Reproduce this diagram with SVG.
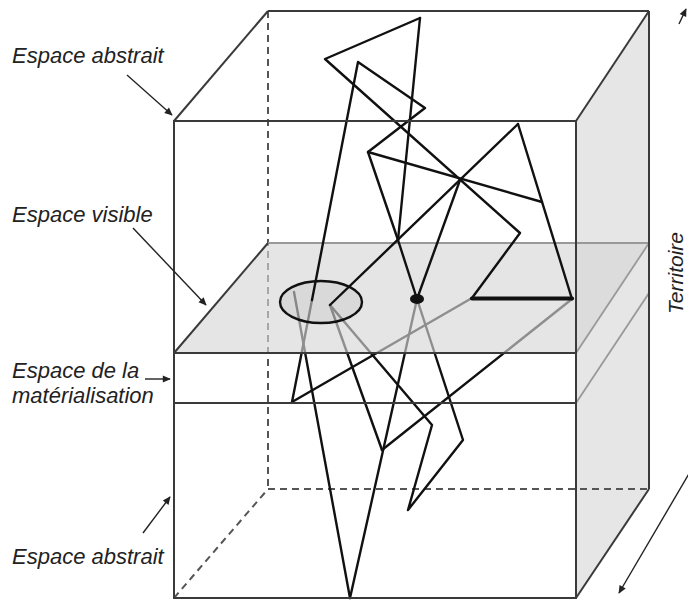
<svg xmlns="http://www.w3.org/2000/svg" width="688" height="604" viewBox="0 0 688 604">
<defs>
<style>
.edge{stroke:#3a3a3a;stroke-width:2;fill:none}
.light{stroke:#999;stroke-width:1.8;fill:none}
.dash{stroke:#555;stroke-width:2;fill:none;stroke-dasharray:7 5}
.fig{stroke:#111;stroke-width:2.4;fill:none;stroke-linejoin:round;stroke-linecap:round}
.arr{stroke:#222;stroke-width:1.4;fill:none;marker-end:url(#ah)}
.lbl{font-family:"Liberation Sans",Arial,sans-serif;font-style:italic;font-size:22px;fill:#222}
.side{font-size:21px}
</style>
<marker id="ah" viewBox="0 0 10 10" refX="9" refY="5" markerWidth="11" markerHeight="8" markerUnits="userSpaceOnUse" orient="auto">
<path d="M0,0.5 L10,5 L0,9.5 Z" fill="#222"/>
</marker>
</defs>
<rect width="688" height="604" fill="#fff"/>

<g id="box-back">
<polygon points="576,121 649,11 649,489 576,598" fill="#e6e6e6"/>
<line class="dash" x1="268" y1="11" x2="268" y2="489"/>
<line class="dash" x1="268" y1="489" x2="649" y2="489"/>
<line class="dash" x1="174" y1="598" x2="268" y2="489"/>
</g>

<g id="connectors-lower">
<polyline class="fig" points="312,300 292,402 472,298"/>
<line class="fig" x1="294" y1="292" x2="350" y2="598"/>
<line class="fig" x1="417" y1="299" x2="350" y2="598"/>
<line class="fig" x1="330" y1="305" x2="382" y2="450"/>
<polyline class="fig" points="330,305 432,425 408,510 463,440 417,299"/>
<line class="fig" x1="572" y1="299" x2="382" y2="450"/>
</g>

<g id="plane-visible">
<polygon points="174,353 576,353 649,243 268,243" fill="#d6d6d6" fill-opacity="0.64"/>
<line class="light" x1="268" y1="243" x2="649" y2="243"/>
<line class="light" x1="576" y1="353" x2="649" y2="243"/>
<line class="edge" x1="174" y1="353" x2="268" y2="243"/>
<line class="edge" x1="174" y1="353" x2="576" y2="353"/>
</g>

<g id="layer-materialisation">
<line class="edge" x1="174" y1="403" x2="576" y2="403"/>
<line class="light" x1="576" y1="403" x2="649" y2="293"/>
</g>

<g id="ellipse-node">
<ellipse cx="321" cy="302" rx="41" ry="21" fill="#000" fill-opacity="0.05" stroke="#111" stroke-width="2.4"/>
</g>

<g id="dot-node">
<ellipse cx="417" cy="299" rx="7" ry="5" fill="#111"/>
</g>

<g id="connectors-upper">
<polyline class="fig" points="420,18 325,59 520,233 472,298"/>
<line class="fig" x1="420" y1="18" x2="398" y2="240"/>
<polyline class="fig" points="312,300 358,62 425,108 368,152 398,240"/>
<line class="fig" x1="368" y1="152" x2="542" y2="202"/>
<line class="fig" x1="518" y1="124" x2="572" y2="299"/>
<line class="fig" x1="518" y1="124" x2="330" y2="305"/>
<line class="fig" x1="460" y1="180" x2="417" y2="299"/>
<line class="fig" x1="398" y1="240" x2="417" y2="299"/>
<line x1="472" y1="298.5" x2="572" y2="298.5" stroke="#111" stroke-width="4.2" stroke-linecap="round"/>
</g>

<g id="box-front">
<rect class="edge" x="174" y="121" width="402" height="477"/>
<line class="edge" x1="268" y1="11" x2="649" y2="11"/>
<line class="edge" x1="174" y1="121" x2="268" y2="11"/>
<line class="edge" x1="576" y1="121" x2="649" y2="11"/>
<line class="edge" x1="649" y1="11" x2="649" y2="489"/>
<line class="edge" x1="576" y1="598" x2="649" y2="489"/>
</g>

<g id="labels">
<text class="lbl" x="12" y="63">Espace abstrait</text>
<text class="lbl" x="12" y="222">Espace visible</text>
<text class="lbl" x="12" y="378">Espace de la</text>
<text class="lbl" x="12" y="403">matérialisation</text>
<text class="lbl" x="12" y="564">Espace abstrait</text>
<text class="lbl side" transform="translate(683,273) rotate(-90)" text-anchor="middle">Territoire</text>
</g>

<g id="label-arrows">
<line class="arr" x1="127" y1="75" x2="172" y2="115"/>
<line class="arr" x1="133" y1="228" x2="206" y2="305"/>
<line class="arr" x1="145" y1="379" x2="170" y2="379"/>
<line class="arr" x1="143" y1="533" x2="170" y2="497"/>
<line class="arr" x1="690" y1="472" x2="619" y2="593"/>
<line class="arr" x1="679" y1="24" x2="686" y2="9"/>
</g>
</svg>
